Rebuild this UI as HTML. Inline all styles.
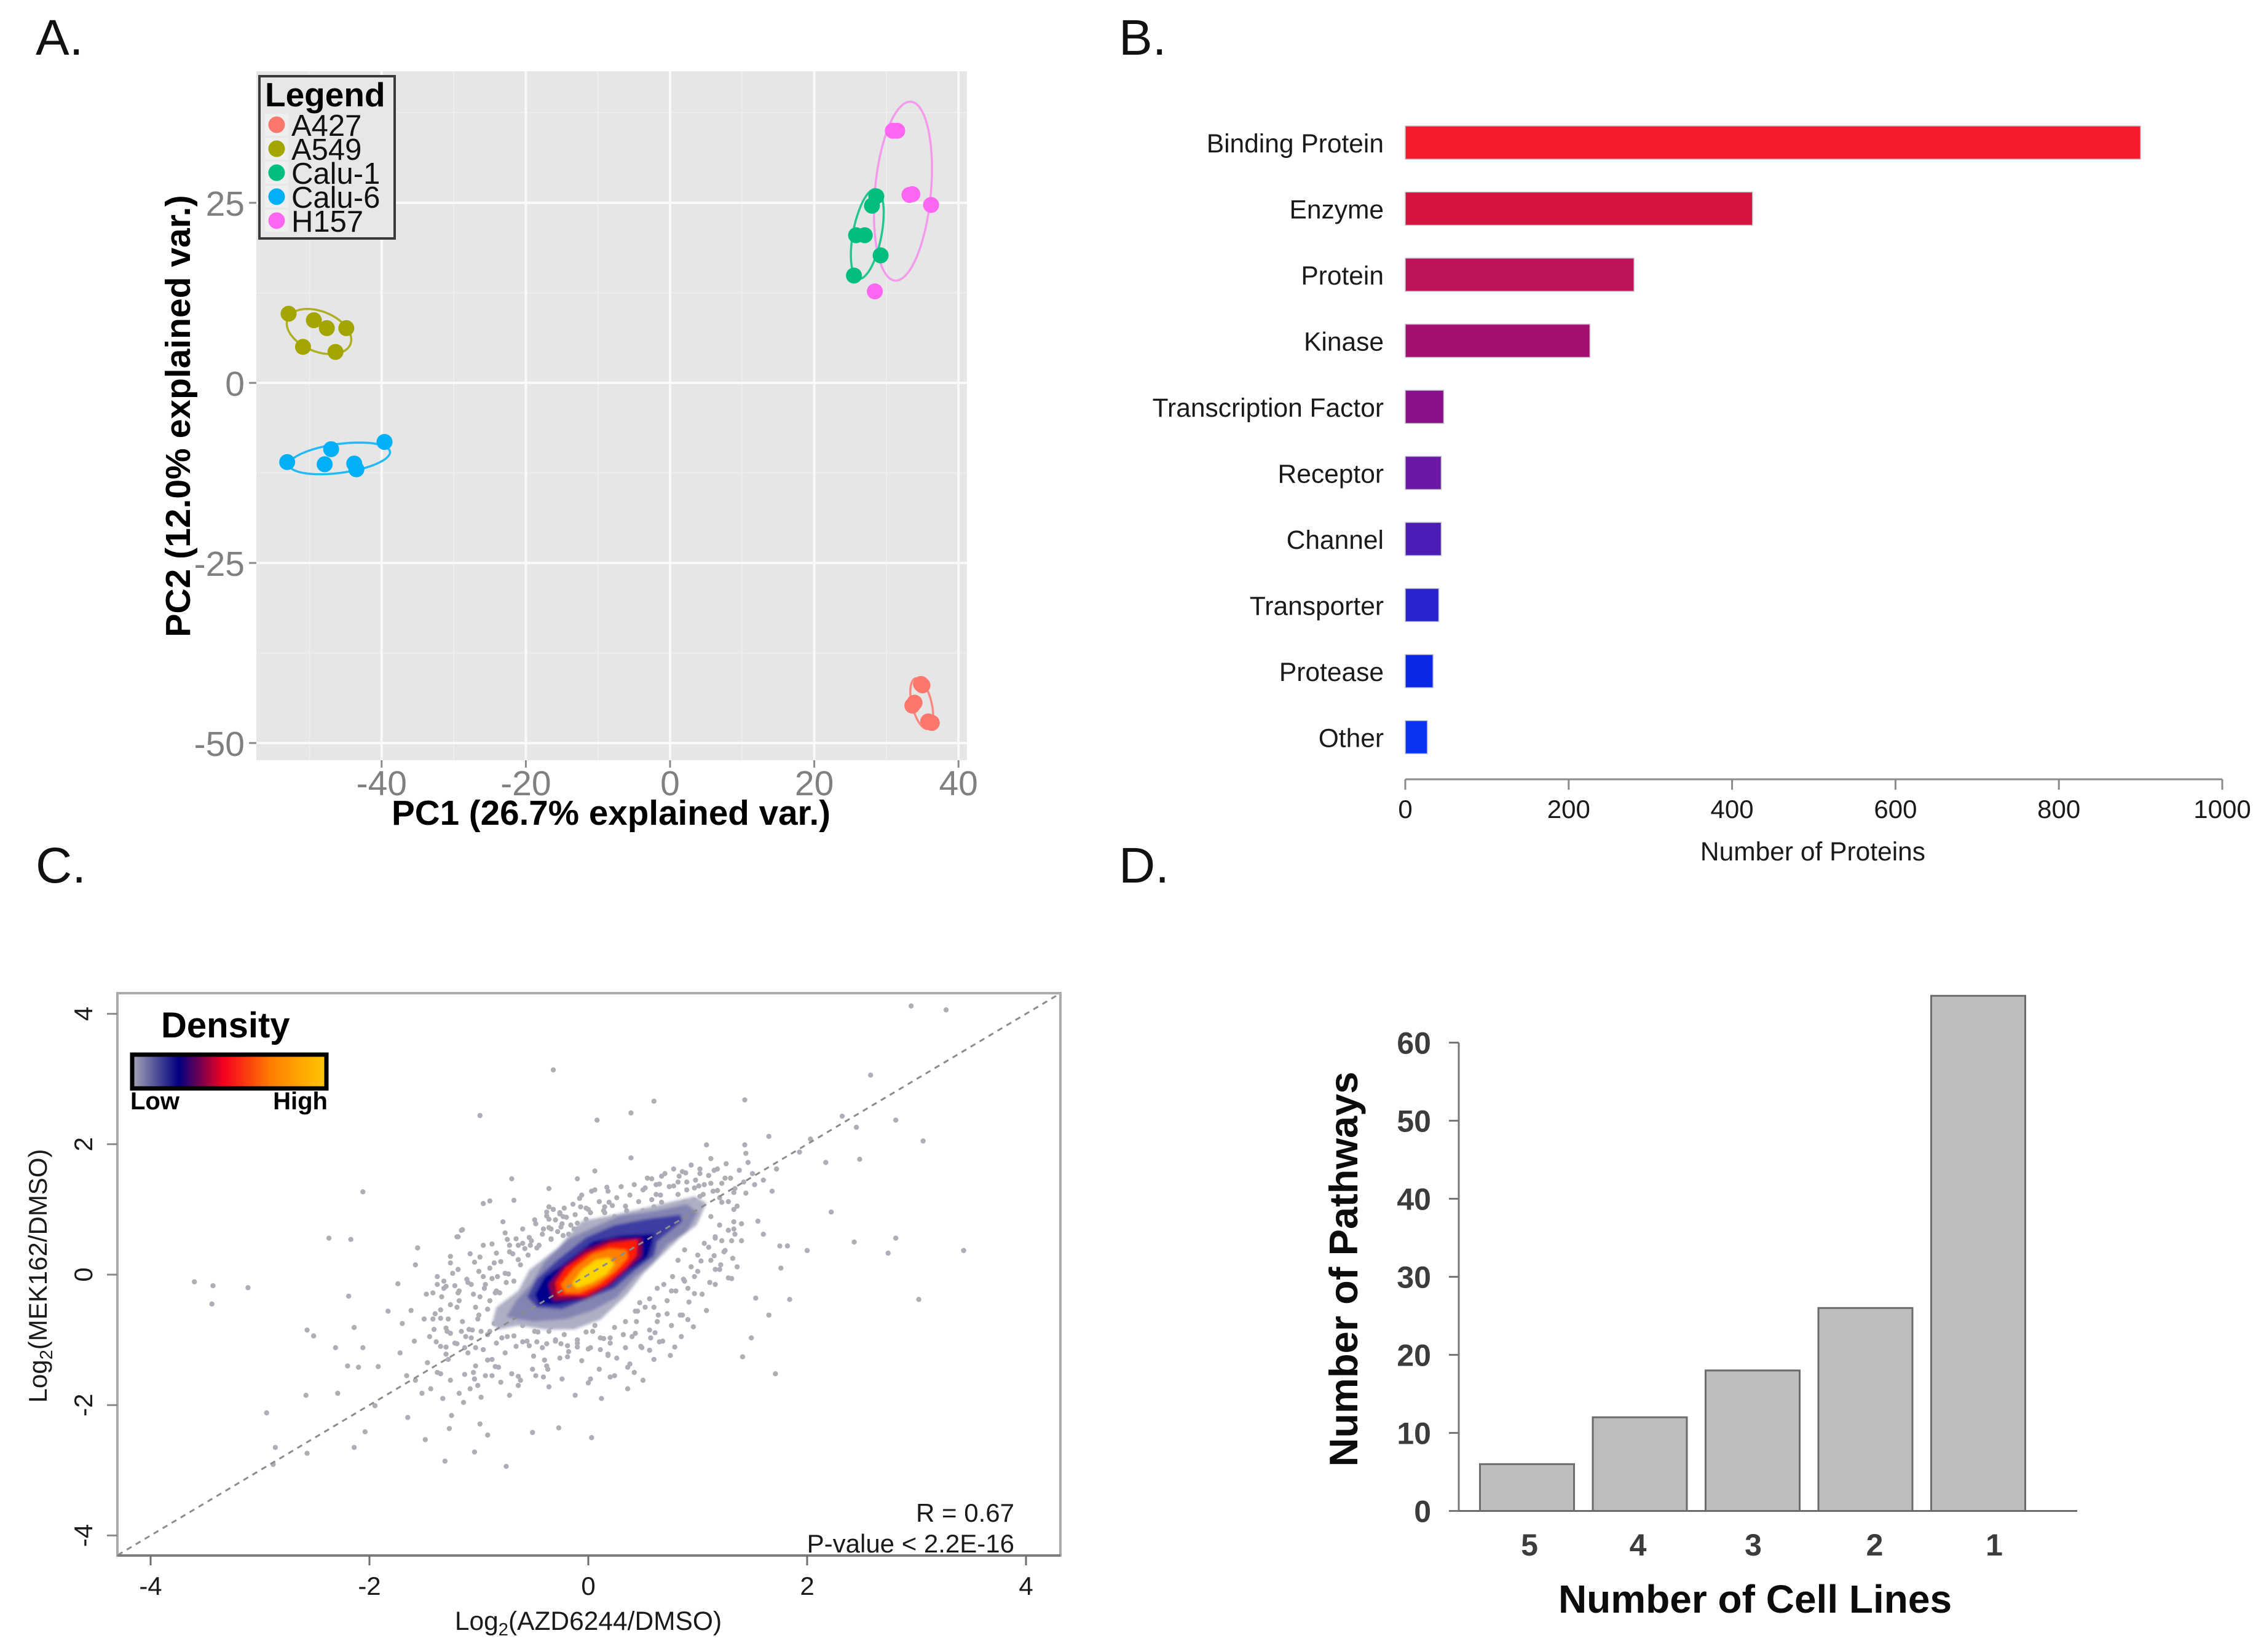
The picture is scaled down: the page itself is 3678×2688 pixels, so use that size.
<!DOCTYPE html>
<html lang="en">
<head>
<meta charset="utf-8">
<title>Proteomics figure panels</title>
<style>
html,body{margin:0;padding:0;background:#fff;}
svg{display:block;}
text{font-family:"Liberation Sans",Arial,sans-serif;}
</style>
</head>
<body>
<svg id="fig" xmlns="http://www.w3.org/2000/svg" width="3678" height="2688" viewBox="0 0 3678 2688">
  <defs>
    <linearGradient id="densityGrad" x1="0" x2="1" y1="0" y2="0">
      <stop offset="0" stop-color="#a6a6b4"/>
      <stop offset="0.24" stop-color="#00007f"/>
      <stop offset="0.47" stop-color="#f5001e"/>
      <stop offset="0.72" stop-color="#ff8000"/>
      <stop offset="1" stop-color="#ffc800"/>
    </linearGradient>
    <filter id="soft" x="-5%" y="-5%" width="110%" height="110%"><feGaussianBlur stdDeviation="2.4"/></filter>
  </defs>
  <rect x="0" y="0" width="3678" height="2688" fill="#fff"/>

  <text x="58" y="89" font-size="82" fill="#111">A.</text>
  <text x="1820" y="89" font-size="82" fill="#111">B.</text>
  <text x="58" y="1436" font-size="82" fill="#111">C.</text>
  <text x="1820" y="1436" font-size="82" fill="#111">D.</text>

  <g id="panelA">
    <rect x="417" y="116" width="1156" height="1121" fill="#e6e6e6"/>
    <g id="aGrid"></g>
    <g id="aTicks"></g>
    <g id="aMarks"></g>
    <text x="994" y="1342" font-size="56.6" font-weight="bold" text-anchor="middle" fill="#000">PC1 (26.7% explained var.)</text>
    <text transform="translate(309,677) rotate(-90)" font-size="57" font-weight="bold" text-anchor="middle" fill="#000">PC2 (12.0% explained var.)</text>
    <g id="aLegend">
      <rect x="422" y="124" width="220" height="264" fill="#e7e7e7" stroke="#3a3a3a" stroke-width="4"/>
      <text x="431" y="173" font-size="55" font-weight="bold" fill="#000">Legend</text>
    </g>
  </g>

  <g id="panelB">
    <g id="bMarks"></g>
    <g id="bTicks"></g>
    <text x="2949" y="1400" font-size="42.5" text-anchor="middle" fill="#1a1a1a">Number of Proteins</text>
  </g>

  <g id="panelC">
    <g id="cPoints"></g>
    <g id="cDensity" filter="url(#soft)"></g>
    <g id="cLine"></g>
    <rect x="191" y="1616" width="1534" height="915" fill="none" stroke="#ababab" stroke-width="4"/>
    <g id="cTicks"></g>
    <text x="957" y="2652" font-size="42.5" text-anchor="middle" fill="#1a1a1a">Log<tspan font-size="29" dy="9">2</tspan><tspan dy="-9">(AZD6244/DMSO)</tspan></text>
    <text transform="translate(76,2076) rotate(-90)" font-size="42" text-anchor="middle" fill="#1a1a1a">Log<tspan font-size="29" dy="9">2</tspan><tspan dy="-9">(MEK162/DMSO)</tspan></text>
    <text x="1650" y="2476" font-size="42" text-anchor="end" fill="#1a1a1a">R = 0.67</text>
    <text x="1650" y="2526" font-size="42" text-anchor="end" fill="#1a1a1a">P-value &lt; 2.2E-16</text>
    <text x="262" y="1688" font-size="58" font-weight="bold" fill="#000">Density</text>
    <rect x="215" y="1716" width="316" height="55" fill="url(#densityGrad)" stroke="#000" stroke-width="7"/>
    <text x="212" y="1805" font-size="40" font-weight="bold" fill="#000">Low</text>
    <text x="533" y="1805" font-size="40" font-weight="bold" text-anchor="end" fill="#000">High</text>
  </g>

  <g id="panelD">
    <g id="dMarks"></g>
    <g id="dTicks"></g>
    <text x="2855" y="2624" font-size="64" font-weight="bold" text-anchor="middle" fill="#0c0c0c">Number of Cell Lines</text>
    <text transform="translate(2208,2065) rotate(-90)" font-size="65" font-weight="bold" text-anchor="middle" fill="#0c0c0c">Number of Pathways</text>
  </g>
</svg>

<script>
// ---------- Panel A data (PCA) ----------
const pcaGroups = ["A427", "A549", "Calu-1", "Calu-6", "H157"];
const pcaColors = ["#fb776c", "#a3a500", "#00bf7d", "#00b0f6", "#fd66f0"];
const a427X = [35.0, 34.8, 33.6, 33.9, 35.8, 36.3];
const a427Y = [-42.0, -41.8, -44.8, -44.4, -47.0, -47.2];
const a549X = [-52.9, -49.4, -47.6, -44.9, -50.9, -46.4];
const a549Y = [9.6, 8.7, 7.6, 7.6, 5.0, 4.3];
const calu1X = [28.6, 28.0, 25.8, 27.0, 29.2, 25.5];
const calu1Y = [25.9, 24.6, 20.5, 20.5, 17.7, 14.9];
const calu6X = [-39.6, -47.0, -53.1, -47.9, -43.8, -43.5];
const calu6Y = [-8.2, -9.2, -11.0, -11.3, -11.2, -12.0];
const h157X = [30.9, 31.5, 33.2, 33.6, 36.2, 28.4];
const h157Y = [35.0, 35.0, 26.1, 26.2, 24.7, 12.7];
const pcaXTicks = [-40, -20, 0, 20, 40];
const pcaYTicks = [25, 0, -25, -50];
const pcaXMinor = [-50, -30, -10, 10, 30];
const pcaYMinor = [37.5, 12.5, -12.5, -37.5];

// ---------- Panel B data ----------
const proteinClasses = ["Binding Protein", "Enzyme", "Protein", "Kinase", "Transcription Factor", "Receptor", "Channel", "Transporter", "Protease", "Other"];
const proteinCounts = [900, 425, 280, 226, 47, 44, 44, 41, 34, 27];
const proteinColors = ["#f51a2e", "#d6123f", "#bb145a", "#a30f6f", "#88108a", "#6a18a5", "#4b1cb9", "#2a22d0", "#0a28e6", "#0a34f0"];
const proteinTicks = [0, 200, 400, 600, 800, 1000];

// ---------- Panel C data (log2 ratios) ----------
const scatterX = [
2.95,3.27,-.32,2.58,.60,1.43,-.99,.08,.39,2.81,
2.32,2.45,1.65,3.06,1.08,1.43,2.03,1.44,1.93,.39,
2.48,2.17,-.70,-2.06,.06,-.10,-.36,-.90,-.96,-.68,
2.22,-2.37,-2.17,-1.56,-1.20,-1.16,2.43,2.81,2.74,3.43,
-3.60,-3.43,-3.11,-3.44,-2.19,-1.74,-1.58,3.02,-2.57,-2.51,
-2.31,-2.06,-2.14,-2.20,-2.10,-1.92,-2.58,-2.29,-2.94,-2.86,
-2.88,-2.57,-2.14,-2.04,-1.95,-1.65,-1.49,-1.25,-1.27,-1.04,
-.99,-.92,-.51,-.27,.03,-1.31,-.75,1.71,1.41,1.49,
1.65,1.53,1.84,1.76,1.82,2.0,1.75,1.60,1.55,1.40,
-1.83,-1.70,-1.62,-1.59,-1.50,-1.45,-1.40,-1.35,-1.30,-1.28,
-1.72,-1.66,-1.58,-1.52,-1.47,-1.44,-1.38,-1.33,-1.26,-1.22,
-1.20,-1.15,-1.12,-1.10,-1.06,-1.03,-1.00,-.96,-.92,-.88,
-1.18,-1.14,-1.08,-1.05,-1.01,-.98,-.94,-.90,-.86,-.84,
-.82,-.80,-.78,-.76,-.74,-.72,-.70,-.68,-.66,-.64,
-1.48,-1.30,-1.24,-1.18,-1.10,-1.05,-1.00,-.94,-.90,-.85,
-.80,-.76,-.72,-.68,-.66,-.62,-.60,-.58,-1.26,-1.08,
-.55,-.52,-.48,-.45,-.42,-.38,-.36,-.34,-.32,-.30,
-.28,-.26,-.24,-.22,-.20,-.18,-.16,-.14,-.12,-.10,
-.06,-.02,.02,.06,.10,.14,.18,.22,.26,.30,
.34,.38,.42,.46,.50,.54,.58,.62,.66,.70,
.74,.78,.82,.86,.90,.94,.98,1.02,1.06,1.10,
1.14,1.18,1.22,1.26,1.30,1.34,1.38,1.42,1.46,1.50,
1.12,1.20,1.28,1.36,1.44,1.52,1.60,1.68,1.72,1.02,
.40,.44,.48,.52,.56,.60,.64,.68,.72,.76,
.80,.84,.88,.92,.96,1.00,1.04,1.08,1.12,1.16,
1.20,1.24,1.28,1.32,1.36,.82,.88,.94,1.00,1.06,
1.10,1.16,1.22,1.28,1.34,1.40,.20,.26,.32,.36,
-.60,-.56,-.50,-.46,-.42,-.38,-.34,-.30,-.26,-.22,
-.18,-.14,-.10,-.06,-.02,.02,.06,.10,.14,.18,
-.62,-.48,-.36,-.24,-.12,0,.12,.24,.36,.50,
.17,.03,-.08,-.07,0,.19,.15,-.78,-1.15,-1.19,
-.76,-.74,-.72,-.96,-.88,-.84,-1.26,-.99,-1.04,-1.19,
-.86,-1.38,-1.32,-1.38,-1.32,-1.42,-1.34,-1.22,-1.19,-1.18,
-1.26,-1.35,-1.42,-1.35,-1.28,-1.41,-1.29,-1.20,-1.39,-1.30,
-1.30,
.72,.86,.91,.63,.43,.61,.85,.57,.65,.79,
.49,.56,.34,0,.11,-.10,-.40,-.19,.18,.75,
.38,.42,.02,.20,-.41,-.51,-.37,-.85,-.92,-1.13,
-1.04,-.88,-1.35,-.64,
.58,.67,.83,.89,1.02,1.15,.52,.65,.78,.90,
1.01,1.12,1.25,.62,.82,.97,1.18,1.33,1.33,1.33,
1.22,1.12,1.20,1.33,1.31,1.16,1.25,1.15,1.03,1.21,
1.16,1.31,1.11,.97,.87,.77,.91,.97,.76,.63,
.69,.56,.47,.60,.45,
-.36,-.38,-.32,-.26,-.23,-.49,-.36,-.34,-.41,-.54,
-.60,-.53,-.64,-.69,-.64,-.47,-.34,-.25,-.23,-.13,
-.10,-.02,.04,.11,.15,.24,.35,.43,.50,.60,
.67,.75,.88,.97,1.05,-1.11,-1.07,-.96,-.88,-.83,
-.95,-.84,-.73,-.75,-.99,-1.03,-.92,-.81,-1.01,-1.09,
-1.16,-1.07,-.98,-1.26,-1.13,-1.03,-.90,-.79,-.68,-.60,
-.54,-.47,-.49,-.36,-.38,-.30,-.25,-.19,-.10,.04,
.11,.20,.24,.34,.43
];
const scatterY = [
4.12,4.06,3.14,3.06,2.66,2.68,2.44,2.37,2.48,2.37,
2.43,2.26,2.12,2.05,1.99,1.99,2.08,1.86,1.88,1.79,
1.77,1.72,1.47,1.27,1.59,1.47,1.32,1.13,1.09,1.14,
.96,.56,.54,.41,.58,.68,.50,.56,.33,.37,
-.11,-.17,-.20,-.45,-.33,-.14,.15,-.38,-.85,-.94,
-1.12,-1.12,-.81,-1.40,-1.42,-1.41,-1.85,-1.82,-2.12,-2.65,
-2.91,-2.74,-2.65,-2.41,-2.01,-2.19,-2.53,-2.16,-2.36,-2.72,
-2.29,-2.46,-2.42,-2.35,-2.50,-2.86,-2.94,-1.52,-1.26,-.97,
-.62,-.36,-.38,.10,.44,.37,.44,.62,.82,.52,
-.56,-.75,-.55,-1.02,-.68,-.95,-.60,-1.10,-.82,-1.30,
-1.20,-1.55,-1.62,-1.82,-1.35,-1.75,-1.50,-1.90,-1.62,-1.05,
-.50,-.72,-.95,-1.20,-.85,-1.40,-.62,-1.15,-.92,-1.30,
-1.82,-1.96,-1.75,-1.50,-1.70,-1.88,-1.55,-.40,-.75,-1.05,
-1.42,-1.65,-.55,-1.20,-.95,-1.85,-1.52,-.40,-1.10,-1.70,
-.30,-.18,.02,-.25,-.12,-.30,.05,-.15,.10,-.28,
.20,.02,.35,-.10,.55,.15,.70,.40,.18,.32,
.30,.52,.78,.45,.62,.90,.72,.55,1.00,.84,
.66,.95,.78,1.02,.88,.62,.76,1.08,.92,.70,
1.22,1.02,.95,1.30,1.12,.98,1.28,1.06,1.18,1.35,
1.05,1.22,1.38,1.12,1.30,1.48,1.15,1.38,1.22,1.55,
1.35,1.62,1.42,1.58,1.30,1.68,1.45,1.62,1.38,1.52,
1.28,1.62,1.40,1.70,1.48,1.32,1.60,1.42,1.72,1.55,
1.78,1.18,1.12,1.05,1.25,1.38,1.45,1.28,1.62,1.20,
-.95,-.72,-1.10,-.50,-.85,-1.30,-.62,-1.02,-.40,-.78,
-.25,-.62,-.10,-.42,-.80,.05,-.30,-.55,.22,-.15,
.08,.35,-.05,.25,.12,.22,.38,.12,.30,.48,
.42,.58,.52,.68,.62,.78,-1.05,-1.28,-.92,-1.42,
-.78,-1.02,-1.25,-.88,-1.12,-1.40,-.80,-1.02,-1.28,-.92,
-1.18,-.78,-1.05,-1.32,-.88,-1.12,-.78,-1.45,-.98,-1.22,
-1.62,-1.55,-1.72,-1.60,-1.85,-1.66,-1.90,-1.55,-1.75,-1.62,
1.34,1.28,1.17,1.04,1.00,1.11,1.04,.81,.69,.58,
.64,.54,.45,.45,.47,.33,.28,.27,.19,.08,
.18,-.03,-.10,-.15,-.21,-.28,-.34,-.17,-.28,-.40,
-.46,-.54,-.68,-.67,-.68,-.84,-.87,-1.06,-1.03,-1.11,
-1.22,
-.60,-.62,-.69,-.72,-.90,-.89,-.95,-.97,-1.03,-1.11,
-1.12,-1.16,-1.12,-1.14,-1.15,-1.11,-1.31,-1.26,-1.24,-1.24,
-1.37,-1.50,-1.60,-1.57,-1.57,-1.45,-1.45,-1.41,-1.31,-1.53,
-1.60,-1.55,-1.52,-1.56,
1.47,1.51,1.51,1.56,1.55,1.60,1.33,1.39,1.36,1.42,
1.36,1.40,1.48,1.23,1.23,1.33,1.29,1.26,1.00,.81,
1.11,.89,.76,.70,.52,.56,.37,.29,.21,.15,
.08,-.06,-.12,-.03,-.07,-.03,-.21,-.29,-.25,-.21,
-.15,-.37,-.43,-.50,-.56,
1.04,.96,1.00,.93,.89,.84,.85,.70,.70,.57,
.48,.45,.45,.32,.23,.41,.54,.73,.60,.70,
.79,.85,.76,.82,.95,.89,.98,.89,.98,1.04,
1.11,1.01,1.11,1.14,1.23,-.07,-.15,-.03,-.06,-.03,
-.21,-.25,.01,-.12,-.34,-.50,-.53,-.28,-.68,-.84,
-.87,-.97,-.87,-.90,-1.12,-1.12,-.87,-.97,-.94,-1.03,
-1.09,-1.03,-.87,-.87,-1.06,-1.00,-1.06,-1.09,-1.00,-.87,
-.97,-.97,-.81,-.72,-.56
];
// Density contours, outermost to innermost, as data-space outlines.
const densityColors = ["#aeaec4", "#8484b2", "#3c3ca2", "#00008c", "#8c0040", "#ff1a00", "#ff8000", "#ffd400"];
const densityLevel1X = [-.88,-.84,-.64,-.54,-.28,-.06,.24,.67,.97,1.08,.99,.84,.65,.50,.35,.11,-.13,-.39,-.64,-.82];
const densityLevel1Y = [-.75,-.50,-.25,.07,.41,.82,.92,1.08,1.20,1.10,.76,.57,.26,.01,-.31,-.69,-.84,-.84,-.78,-.84];
const densityLevel2X = [-.75,-.66,-.52,-.40,-.18,.04,.28,.62,.90,1.00,.90,.72,.60,.42,.26,.04,-.20,-.50];
const densityLevel2Y = [-.65,-.40,-.14,.20,.55,.72,.90,.98,1.08,.95,.66,.46,.20,-.05,-.35,-.55,-.68,-.72];
const densityLevel3X = [-.56,-.47,-.28,-.02,.24,.52,.84,.86,.63,.60,.43,.24,.04,-.24,-.47];
const densityLevel3Y = [-.34,-.06,.23,.57,.76,.85,.92,.82,.51,.29,.07,-.21,-.34,-.53,-.50];
const densityLevel4X = [-.49,-.40,-.23,.04,.30,.60,.58,.54,.35,.20,-.02,-.28,-.45];
const densityLevel4Y = [-.31,-.03,.16,.51,.60,.63,.45,.26,.04,-.18,-.37,-.46,-.46];
const densityLevel5X = [-.36,-.24,-.04,.20,.49,.49,.35,.19,0,-.32];
const densityLevel5Y = [-.15,.10,.37,.54,.56,.29,.07,-.17,-.36,-.40];
const densityLevel6X = [-.30,-.21,-.02,.20,.45,.44,.34,.17,-.02,-.28];
const densityLevel6Y = [-.12,.10,.32,.48,.54,.29,.10,-.15,-.32,-.32];
const densityLevel7X = [-.25,-.13,.04,.20,.35,.36,.24,.09,-.08,-.21];
const densityLevel7Y = [-.15,.10,.32,.40,.38,.26,.04,-.15,-.28,-.28];
const densityLevel8X = [-.15,-.06,.07,.19,.24,.17,.04,-.10];
const densityLevel8Y = [-.14,.07,.23,.26,.16,.01,-.12,-.21];
const scatterXTicks = [-4, -2, 0, 2, 4];
const scatterYTicks = [4, 2, 0, -2, -4];

// ---------- Panel D data ----------
const cellLineCategories = ["5", "4", "3", "2", "1"];
const pathwayCounts = [6, 12, 18, 26, 66];
const pathwayTicks = [0, 10, 20, 30, 40, 50, 60];

// ---------- helpers and axis functions ----------
const NS = "http://www.w3.org/2000/svg";
function make(tag, parentId) {
  const node = document.createElementNS(NS, tag);
  document.getElementById(parentId).appendChild(node);
  return node;
}
function setAll(node, attrs) {
  for (const k in attrs) node.setAttribute(k, attrs[k]);
  return node;
}
const xA = v => 1090 + v * 11.73;
const yA = v => 623 - v * 11.72;
const xB = v => 2286 + v * 1.329;
const yB = i => 232 + i * 107.5;
const xC = v => 957 + v * 178;
const yC = v => 2074 - v * 106.1;
const yD = v => 2458.5 - v * 12.7;
const xD = i => 2484 + i * 183.5;

// ---------- Panel A render ----------
pcaXMinor.forEach(v => {
  const l = make("line", "aGrid");
  setAll(l, {x1: xA(v), x2: xA(v), y1: 116, y2: 1237, stroke: "#eeeeee", "stroke-width": 2});
  
  
});
pcaYMinor.forEach(v => {
  const l = make("line", "aGrid");
  setAll(l, {x1: 417, x2: 1573, y1: yA(v), y2: yA(v), stroke: "#eeeeee", "stroke-width": 2});
  
  
});
pcaXTicks.forEach(v => {
  const l = make("line", "aGrid");
  setAll(l, {x1: xA(v), x2: xA(v), y1: 116, y2: 1237, stroke: "#f9f9f9", "stroke-width": 4});
  
  
  const t = make("line", "aTicks");
  setAll(t, {x1: xA(v), x2: xA(v), y1: 1237, y2: 1249, stroke: "#8a8a8a", "stroke-width": 3});
  
  
  const s = make("text", "aTicks");
  setAll(s, {x: xA(v), y: 1294, "font-size": 57, "text-anchor": "middle", fill: "#808080"});
  
  
  s.textContent = v;
});
pcaYTicks.forEach(v => {
  const l = make("line", "aGrid");
  setAll(l, {x1: 417, x2: 1573, y1: yA(v), y2: yA(v), stroke: "#f9f9f9", "stroke-width": 4});
  
  
  const t = make("line", "aTicks");
  setAll(t, {x1: 405, x2: 417, y1: yA(v), y2: yA(v), stroke: "#8a8a8a", "stroke-width": 3});
  
  
  const s = make("text", "aTicks");
  setAll(s, {x: 398, y: yA(v) + 21, "font-size": 57, "text-anchor": "end", fill: "#808080"});
  
  
  s.textContent = v;
});
const pcaSeriesX = [a427X, a549X, calu1X, calu6X, h157X];
const pcaSeriesY = [a427Y, a549Y, calu1Y, calu6Y, h157Y];
// 68% normal ellipse computed from each group's points
function ellipsePath(xs, ys) {
  const n = xs.length;
  const mx = xs.reduce((a, b) => a + b, 0) / n;
  const my = ys.reduce((a, b) => a + b, 0) / n;
  let sxx = 0, syy = 0, sxy = 0;
  for (let i = 0; i < n; i++) {
    sxx += (xs[i] - mx) * (xs[i] - mx);
    syy += (ys[i] - my) * (ys[i] - my);
    sxy += (xs[i] - mx) * (ys[i] - my);
  }
  sxx /= n - 1; syy /= n - 1; sxy /= n - 1;
  const tr = sxx + syy, det = Math.sqrt(Math.max(0, (sxx - syy) * (sxx - syy) + 4 * sxy * sxy));
  const l1 = (tr + det) / 2, l2 = Math.max(0, (tr - det) / 2);
  const ang = 0.5 * Math.atan2(2 * sxy, sxx - syy);
  const k = 1.51;
  let d = "";
  for (let s = 0; s <= 72; s++) {
    const th = s / 72 * 2 * Math.PI;
    const u = k * Math.sqrt(l1) * Math.cos(th), w = k * Math.sqrt(l2) * Math.sin(th);
    const px = mx + u * Math.cos(ang) - w * Math.sin(ang);
    const py = my + u * Math.sin(ang) + w * Math.cos(ang);
    d += (s ? "L" : "M") + xA(px).toFixed(1) + " " + yA(py).toFixed(1);
  }
  return d + "Z";
}
pcaGroups.forEach((g, gi) => {
  const e = make("path", "aMarks");
  setAll(e, {d: ellipsePath(pcaSeriesX[gi], pcaSeriesY[gi]), fill: "none", stroke: pcaColors[gi], "stroke-width": 3.5, "stroke-opacity": gi === 4 ? 0.6 : 0.85});
  
  
});
pcaGroups.forEach((g, gi) => {
  pcaSeriesX[gi].forEach((x, i) => {
    const c = make("circle", "aMarks");
    setAll(c, {cx: xA(x), cy: yA(pcaSeriesY[gi][i]), r: 13, fill: pcaColors[gi]});
    
    
  });
  const rowY = 203 + gi * 39;
  const key = make("rect", "aLegend");
  setAll(key, {x: 431, y: rowY - 18, width: 38, height: 36, fill: "#efefef"});
  
  
  const dot = make("circle", "aLegend");
  setAll(dot, {cx: 450, cy: rowY, r: 13.5, fill: pcaColors[gi]});
  
  
  const lab = make("text", "aLegend");
  setAll(lab, {x: 474, y: rowY + 18, "font-size": 49, fill: "#111"});
  
  
  lab.textContent = g;
});

// ---------- Panel B render ----------
proteinClasses.forEach((name, i) => {
  const r = make("rect", "bMarks");
  setAll(r, {x: xB(0), y: yB(i) - 27, width: xB(proteinCounts[i]) - xB(0), height: 54, fill: proteinColors[i], stroke: "#c3c3c9", "stroke-width": 1.5});
  
  
  const s = make("text", "bTicks");
  setAll(s, {x: 2251, y: yB(i) + 16, "font-size": 42.5, "text-anchor": "end", fill: "#1a1a1a"});
  
  
  s.textContent = name;
});
const bAxis = make("line", "bTicks");
setAll(bAxis, {x1: xB(proteinTicks[0]), x2: xB(proteinTicks[proteinTicks.length - 1]), y1: 1268, y2: 1268, stroke: "#8a8a8a", "stroke-width": 3});


proteinTicks.forEach(v => {
  const t = make("line", "bTicks");
  setAll(t, {x1: xB(v), x2: xB(v), y1: 1268, y2: 1285, stroke: "#8a8a8a", "stroke-width": 3});
  
  
  const s = make("text", "bTicks");
  setAll(s, {x: xB(v), y: 1331, "font-size": 42, "text-anchor": "middle", fill: "#1a1a1a"});
  
  
  s.textContent = v;
});

// ---------- Panel C render ----------
scatterX.forEach((x, i) => {
  const c = make("circle", "cPoints");
  setAll(c, {cx: xC(x), cy: yC(scatterY[i]), r: 4.2, fill: "#aeaeb6"});
  
  
});
const densityX = [densityLevel1X, densityLevel2X, densityLevel3X, densityLevel4X, densityLevel5X, densityLevel6X, densityLevel7X, densityLevel8X];
const densityY = [densityLevel1Y, densityLevel2Y, densityLevel3Y, densityLevel4Y, densityLevel5Y, densityLevel6Y, densityLevel7Y, densityLevel8Y];
densityX.forEach((xs, li) => {
  const p = make("polygon", "cDensity");
  p.setAttribute("points", xs.map((x, i) => xC(x).toFixed(1) + "," + yC(densityY[li][i]).toFixed(1)).join(" "));
  p.setAttribute("fill", densityColors[li]);
  
  
});
const idLine = make("line", "cLine");
setAll(idLine, {x1: xC(-4.3), y1: yC(-4.3), x2: xC(4.32), y2: yC(4.32), stroke: "#8c8c8c", "stroke-width": 3, "stroke-dasharray": "9 8"});


const cAxisX = make("line", "cTicks");
setAll(cAxisX, {x1: 191, x2: 1725, y1: 2531, y2: 2531, stroke: "#7d7d7d", "stroke-width": 4});


scatterXTicks.forEach(v => {
  const t = make("line", "cTicks");
  setAll(t, {x1: xC(v), x2: xC(v), y1: 2531, y2: 2547, stroke: "#6e6e6e", "stroke-width": 3});
  
  
  const s = make("text", "cTicks");
  setAll(s, {x: xC(v), y: 2595, "font-size": 42, "text-anchor": "middle", fill: "#1a1a1a"});
  
  
  s.textContent = v;
});
scatterYTicks.forEach(v => {
  const t = make("line", "cTicks");
  setAll(t, {x1: 174, x2: 191, y1: yC(v), y2: yC(v), stroke: "#8a8a8a", "stroke-width": 3});
  
  
  const s = make("text", "cTicks");
  s.setAttribute("transform", "translate(150," + yC(v) + ") rotate(-90)");
  setAll(s, {"font-size": 42, "text-anchor": "middle", fill: "#1a1a1a"});
  
  
  s.textContent = v;
});

// ---------- Panel D render ----------
const labelNudge = [4, -3, 1, 15, 26];
cellLineCategories.forEach((cat, i) => {
  const r = make("rect", "dMarks");
  setAll(r, {x: xD(i) - 76.5, y: yD(pathwayCounts[i]), width: 153, height: yD(0) - yD(pathwayCounts[i]), fill: "#bebebe", stroke: "#6b6b6b", "stroke-width": 3});
  
  
  const s = make("text", "dTicks");
  setAll(s, {x: xD(i) + labelNudge[i], y: 2531, "font-size": 50, "font-weight": "bold", "text-anchor": "middle", fill: "#3c3c3c"});
  
  
  s.textContent = cat;
});
const dAxisY = make("line", "dTicks");
setAll(dAxisY, {x1: 2373, x2: 2373, y1: yD(pathwayTicks[0]), y2: yD(pathwayTicks[pathwayTicks.length - 1]), stroke: "#777", "stroke-width": 3});


const dAxisX = make("line", "dTicks");
setAll(dAxisX, {x1: 2357, x2: 3379, y1: yD(0), y2: yD(0), stroke: "#6b6b6b", "stroke-width": 3});


pathwayTicks.forEach(v => {
  const t = make("line", "dTicks");
  setAll(t, {x1: 2357, x2: 2373, y1: yD(v), y2: yD(v), stroke: "#777", "stroke-width": 3});
  
  
  const s = make("text", "dTicks");
  setAll(s, {x: 2328, y: yD(v) + 18, "font-size": 50, "font-weight": "bold", "text-anchor": "end", fill: "#3c3c3c"});
  
  
  s.textContent = v;
});
</script>
</body>
</html>
